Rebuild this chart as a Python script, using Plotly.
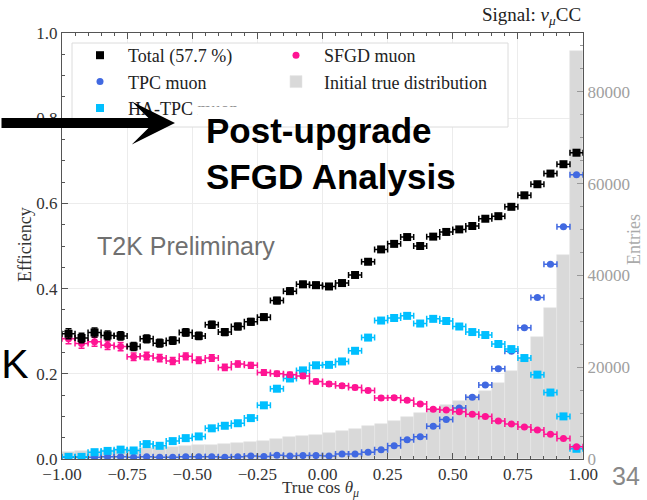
import numpy as np
import plotly.graph_objects as go

# 40 bins of true cos(theta_mu) between -1 and 1
bin_edges = np.linspace(-1.0, 1.0, 41)
bin_centers = 0.5 * (bin_edges[:-1] + bin_edges[1:])
half_width = 0.5 * (bin_edges[1] - bin_edges[0])

# Selection efficiencies per bin
eff_total = [0.294, 0.284, 0.297, 0.290, 0.289, 0.264, 0.282, 0.272, 0.278, 0.297,
             0.289, 0.315, 0.298, 0.311, 0.322, 0.333, 0.372, 0.394, 0.410, 0.408,
             0.405, 0.413, 0.432, 0.463, 0.492, 0.505, 0.521, 0.500, 0.522, 0.533,
             0.539, 0.547, 0.564, 0.570, 0.592, 0.619, 0.645, 0.670, 0.692, 0.719]
eff_tpc = [0.004, 0.004, 0.004, 0.005, 0.005, 0.004, 0.005, 0.004, 0.004, 0.005,
           0.005, 0.005, 0.004, 0.005, 0.007, 0.006, 0.009, 0.007, 0.008, 0.008,
           0.007, 0.012, 0.012, 0.016, 0.022, 0.031, 0.045, 0.052, 0.077, 0.093,
           0.120, 0.145, 0.174, 0.212, 0.253, 0.308, 0.379, 0.457, 0.545, 0.667]
eff_hatpc = [0.005, 0.005, 0.016, 0.019, 0.022, 0.020, 0.035, 0.031, 0.042, 0.049,
             0.053, 0.072, 0.078, 0.084, 0.096, 0.126, 0.165, 0.189, 0.208, 0.220,
             0.221, 0.229, 0.254, 0.285, 0.325, 0.331, 0.336, 0.318, 0.329, 0.324,
             0.311, 0.298, 0.291, 0.270, 0.258, 0.237, 0.198, 0.156, 0.100, 0.024]
eff_sfgd = [0.282, 0.271, 0.275, 0.267, 0.264, 0.240, 0.242, 0.237, 0.230, 0.241,
            0.232, 0.237, 0.215, 0.223, 0.220, 0.203, 0.200, 0.198, 0.195, 0.182,
            0.176, 0.172, 0.168, 0.161, 0.143, 0.144, 0.138, 0.129, 0.117, 0.115,
            0.111, 0.105, 0.100, 0.089, 0.082, 0.075, 0.068, 0.058, 0.048, 0.029]

# Initial true distribution (entries per bin)
entries = [1500, 1650, 1800, 1950, 2100, 2250, 2400, 2550, 2700, 2850,
           3000, 3150, 3300, 3450, 3800, 4000, 4400, 4700, 5000, 5300,
           5700, 6100, 6600, 7100, 7600, 8300, 9100, 10000, 10900, 11700,
           12700, 13800, 14900, 16500, 19100, 22100, 26600, 33000, 44400, 88900]

x_ticks = [-1.0, -0.75, -0.5, -0.25, 0.0, 0.25, 0.5, 0.75, 1.0]
eff_ticks = [0.0, 0.2, 0.4, 0.6, 0.8, 1.0]
entry_ticks = [0, 20000, 40000, 60000, 80000]

SERIF = "Liberation Serif"
SANS = "Liberation Sans"
N = np.array(entries, dtype=float)

# plot area in pixels (used to place slide labels in paper units)
L, R, T, B = 62, 64, 33, 41
W, H = 647, 500
PW, PH = W - L - R, H - T - B


def px(xp):
    return (xp - L) / PW


def py(yp):
    return (H - B - yp) / PH


def binomial_err(eff):
    e = np.array(eff)
    return np.sqrt(e * (1 - e) / N)


fig = go.Figure()

fig.add_trace(go.Bar(
    x=bin_centers, y=entries, width=2 * half_width, yaxis="y",
    name="Initial true distribution", legend="legend2", legendrank=2,
    legendgroup="init",
    marker=dict(color="#d9d9d9", line=dict(color="#e6e6e6", width=0.6)),
))

# name, values, colour, symbol, size, legend, rank
series = [
    ("Total (57.7 %)", eff_total, "#000000", "square", 8, "legend", 1),
    ("TPC muon", eff_tpc, "#4169e1", "circle", 7, "legend", 2),
    ("HA-TPC muon", eff_hatpc, "#00bfff", "square", 8, "legend", 3),
    ("SFGD muon", eff_sfgd, "#ff1493", "circle", 7, "legend2", 1),
]
draw_order = [1, 2, 3, 0]  # draw total on top
for i in draw_order:
    name, eff, color, sym, size, leg, rank = series[i]
    fig.add_trace(go.Scatter(
        x=bin_centers, y=eff, yaxis="y2", mode="markers", name=name,
        legend=leg, legendrank=rank, legendgroup=name,
        marker=dict(color=color, symbol=sym, size=size),
        error_x=dict(type="constant", value=half_width, color=color,
                     thickness=1.5, width=3),
        error_y=dict(type="data", array=binomial_err(eff), color=color,
                     thickness=1.5, width=3),
    ))

axis_line = "#555555"
legend_style = dict(
    yanchor="top", xanchor="left", orientation="v", itemwidth=46,
    traceorder="normal", tracegroupgap=2, bgcolor="rgba(0,0,0,0)",
    borderwidth=0, font=dict(family=SERIF, size=18, color="#222222"),
)
fig.update_layout(
    width=W, height=H,
    margin=dict(l=L, r=R, t=T, b=B),
    paper_bgcolor="white", plot_bgcolor="white",
    bargap=0, showlegend=True,
    font=dict(family=SERIF, size=17, color="#333333"),
    xaxis=dict(
        range=[-1, 1], tickvals=x_ticks, tickformat=".2f",
        ticks="inside", ticklen=6, tickcolor=axis_line,
        showline=True, linecolor=axis_line, linewidth=1, mirror="ticks",
        showgrid=True, gridcolor="#ececec", zeroline=False,
        minor=dict(dtick=0.05, tick0=-1, ticks="inside", ticklen=3,
                   tickcolor=axis_line, showgrid=False),
        tickfont=dict(family=SERIF, size=17, color="#333333"),
    ),
    yaxis=dict(
        side="right", range=[0, 92800], tickvals=entry_ticks, tickformat="d",
        ticks="inside", ticklen=6, tickcolor="#999999",
        showline=True, linecolor=axis_line, linewidth=1,
        showgrid=False, zeroline=False,
        minor=dict(dtick=5000, ticks="inside", ticklen=3, tickcolor="#999999",
                   showgrid=False),
        tickfont=dict(family=SERIF, size=17, color="#a0a0a0"),
    ),
    yaxis2=dict(
        overlaying="y", side="left", range=[0, 1.0], tickvals=eff_ticks,
        tickformat=".1f", ticks="inside", ticklen=6, tickcolor=axis_line,
        showline=True, linecolor=axis_line, linewidth=1,
        showgrid=True, gridcolor="#ececec", zeroline=False,
        minor=dict(dtick=0.05, ticks="inside", ticklen=3, tickcolor=axis_line,
                   showgrid=False),
        tickfont=dict(family=SERIF, size=17, color="#333333"),
    ),
    legend=dict(x=px(72), y=py(37), **legend_style),
    legend2=dict(x=px(268), y=py(37), **legend_style),
)

# legend frame
fig.add_shape(type="rect", xref="paper", yref="paper",
              x0=px(72), x1=px(508), y0=py(127), y1=py(43),
              fillcolor="white", line=dict(color="#dcdcdc", width=1),
              layer="above")

annotations = [
    # axis titles
    dict(text="True cos <i>θ</i><sub><i>μ</i></sub>", x=px(320), y=py(489),
         font=dict(family=SERIF, size=17, color="#333333")),
    dict(text="Efficiency", x=px(25), y=py(245), textangle=-90,
         font=dict(family=SERIF, size=18, color="#333333")),
    dict(text="Entries", x=px(634), y=py(240), textangle=-90,
         font=dict(family=SERIF, size=18, color="#aaaaaa")),
    dict(text="Signal: <i>ν</i><sub><i>μ</i></sub>CC", x=1.0, y=py(16),
         xanchor="right", font=dict(family=SERIF, size=19, color="#222222")),
    # slide labels
    dict(text="T2K Preliminary", x=px(95), y=py(246), xanchor="left",
         font=dict(family=SANS, size=25, color="#707070")),
    dict(text=" ", x=px(224), y=py(115), width=52, height=16,
         bgcolor="white", borderpad=0),
    dict(text="<b>Post-upgrade<br>SFGD Analysis</b>", x=px(204), y=py(153),
         xanchor="left", align="left",
         font=dict(family=SANS, size=35, color="#000000")),
    dict(text="", x=px(175), y=py(123), ax=-175, ay=0,
         showarrow=True, arrowhead=3, arrowwidth=10, arrowsize=0.72,
         arrowcolor="#000000", standoff=0),
    dict(text="SK", x=px(31), y=py(364), xanchor="right",
         font=dict(family=SANS, size=41, color="#000000")),
    dict(text="34", x=px(626), y=py(476),
         font=dict(family=SANS, size=25, color="#888888")),
]
for a in annotations:
    a.setdefault("xref", "paper")
    a.setdefault("yref", "paper")
    a.setdefault("xanchor", "center")
    a.setdefault("yanchor", "middle")
    a.setdefault("showarrow", False)
    fig.add_annotation(**a)

fig.write_html("out.html")
